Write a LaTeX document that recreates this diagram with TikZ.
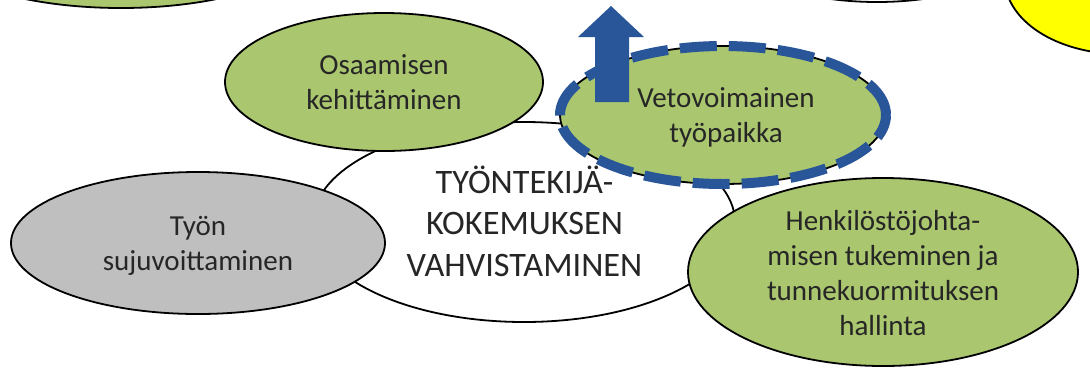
\documentclass[tikz,border=0pt]{standalone}
\usepackage{fontspec}
\setmainfont{Carlito}
\usetikzlibrary{shapes.geometric}
\definecolor{leaf}{RGB}{170,198,110}
\definecolor{greyfill}{RGB}{191,191,191}
\definecolor{bluedash}{RGB}{41,85,153}
\definecolor{txt}{RGB}{38,38,38}
\definecolor{yell}{RGB}{255,255,0}
\tikzset{
  blob/.style={ellipse, draw=black, line width=1.8pt, inner sep=0pt, outer sep=0pt},
  lbl/.style={anchor=base, inner sep=0pt, text=txt, font=\fontsize{29}{35}\selectfont},
  biglbl/.style={anchor=base, inner sep=0pt, text=txt, font=\fontsize{34.3}{41.5}\selectfont},
}
\newcommand{\lines}[1]{\begin{tabular}[t]{@{}c@{}}#1\end{tabular}}
\begin{document}
\begin{tikzpicture}[x=1pt,y=-1pt]
\useasboundingbox (0,0) rectangle (1090,368);
\begin{scope}
\clip (0,0) rectangle (1090,368);
% central
\node[blob, fill=white, minimum width=422pt, minimum height=200pt] (core) at (524,222) {};
% partial ellipses at the top edge
\node[blob, fill=leaf, minimum width=390pt, minimum height=140pt] (topleft) at (121,-62) {};
\node[blob, fill=white, minimum width=340pt, minimum height=160pt] (topmid) at (877,-78) {};
\node[blob, fill=yell, minimum width=232pt, minimum height=150pt] (topright) at (1121,-21) {};
% satellites
\node[blob, fill=leaf, minimum width=318pt, minimum height=138pt] (osaam) at (384,82) {};
\node[blob, fill=greyfill, minimum width=374pt, minimum height=142pt] (tyon) at (198,243) {};
\node[blob, fill=leaf, minimum width=390pt, minimum height=188pt] (henk) at (883,272) {};
\node[blob, fill=leaf, minimum width=326pt, minimum height=138pt] (veto) at (723,115) {};
\draw[bluedash, line width=10pt, dash pattern=on 37pt off 12pt]
  (veto.center) ellipse [x radius=163pt, y radius=69pt];
% arrow
\fill[bluedash] (595,102) -- (595,37) -- (578,37) -- (611,6) -- (644,37) -- (629,37) -- (629,102) -- cycle;
\end{scope}
% texts
\node[biglbl] (coret) at (524.5,193) {\lines{TYÖNTEKIJÄ-\\KOKEMUKSEN\\VAHVISTAMINEN}};
\node[lbl] (osaamt) at (384,74) {\lines{Osaamisen\\kehittäminen}};
\node[lbl] (tyont) at (198,235) {\lines{Työn\\sujuvoittaminen}};
\node[lbl] (vetot) at (726,107) {\lines{Vetovoimainen\\työpaikka}};
\node[lbl] (henkt) at (883,230) {\lines{Henkilöstöjohta-\\misen tukeminen ja\\tunnekuormituksen\\hallinta}};
\end{tikzpicture}
\end{document}
